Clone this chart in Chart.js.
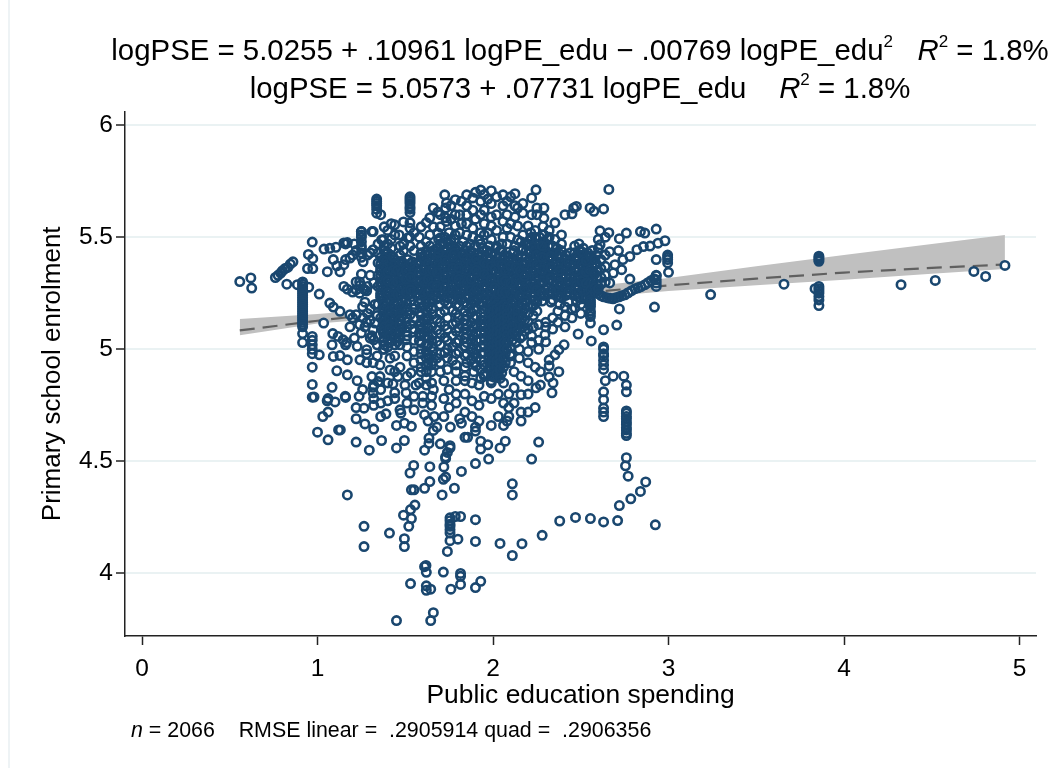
<!DOCTYPE html>
<html><head><meta charset="utf-8">
<script src="https://cdn.jsdelivr.net/npm/chart.js@4/dist/chart.umd.min.js"></script>
<style>
html,body{margin:0;padding:0;background:#fff;width:1050px;height:768px;overflow:hidden;font-family:"Liberation Sans",Arial,sans-serif;color:#000}
#wrap{position:relative;width:1050px;height:768px}
#edge{position:absolute;left:8px;top:0;width:2px;height:768px;background:#eef3f5}
canvas{position:absolute;left:0;top:0}
.t{position:absolute;white-space:nowrap;font-size:29.4px;line-height:34px;transform:translateX(-50%)}
.t sup{font-size:17px;line-height:0;vertical-align:baseline;position:relative;top:-13px}
#note{position:absolute;left:131px;top:718px;font-size:21.4px;line-height:24px;white-space:pre}
</style></head><body>
<div id="wrap">
<div id="edge"></div>
<canvas id="c" width="1050" height="768"></canvas>
<div class="t" style="left:580px;top:33px">logPSE = 5.0255 + .10961 logPE_edu − .00769 logPE_edu<sup>2</sup> &nbsp; <i>R</i><sup>2</sup> = 1.8%</div>
<div class="t" style="left:580px;top:71px">logPSE = 5.0573 + .07731 logPE_edu &nbsp;&nbsp; <i>R</i><sup>2</sup> = 1.8%</div>
<div id="note"><i>n</i> = 2066    RMSE linear =  .2905914 quad =  .2906356</div>
</div>
<script>
// every strand: [spending, enrolment, enrolment, ...]
const leftTail=[[0.557,5.302],[0.62,5.318],[0.625,5.273],[0.76,5.32],[0.775,5.33],[0.79,5.34],[0.80,5.35],[0.815,5.36],[0.83,5.365],[0.845,5.38],[0.86,5.39],[0.825,5.29],[0.885,5.288],
[0.915,5.30,5.29,5.28,5.27,5.26,5.25,5.24,5.23,5.22,5.21,5.20,5.19,5.18,5.17,5.16,5.15,5.14,5.13,5.12,5.11,5.10,5.07,5.03],
[0.95,5.277],[1.01,5.246],[1.035,5.117],[0.97,5.478,5.057,5.04,5.02,5.0,4.98,4.92,4.843,4.786],[0.948,5.423],[0.973,5.404,5.36],[0.943,5.36],[1.037,5.447],[1.07,5.45,5.206],[1.105,5.455],[1.15,5.474,5.377,5.28],[1.17,5.268,5.476],[1.09,5.40,5.188,4.968],[1.056,5.346],[1.11,5.372,4.904],[1.128,5.346,5.169,4.972],[1.185,5.407,5.154,5.10],[1.01,4.975],[1.087,5.07],[1.083,5.02,4.83],[1.17,4.886,4.953],[1.158,4.79],[1.06,4.78]];
const leftCloud=[[1.22,5.154,5.44,5.30,5.265],[1.26,5.14,5.39,5.27],[1.30,5.13,5.43,5.33],[1.327,5.117,5.20],[1.117,5.057],[1.146,5.042],[1.166,5.03],[1.226,5.013,4.86],[1.25,5.073,5.525,5.51,5.50,5.48,5.46,5.45,5.43,5.41,5.335],[1.317,5.087,4.94,5.525,5.444],[1.28,4.998,4.98,4.94,5.26,5.12],[1.32,5.042,5.296],[1.242,4.953,5.285],[1.356,4.93,4.878],[1.413,4.908,4.96],[1.458,4.878],[1.533,4.895],[1.31,4.878,5.06],[1.345,4.856,5.385],[1.43,4.846],[1.498,4.84],[1.56,4.84],[1.257,4.82,5.19],[1.317,4.83,4.806],[1.44,4.806],[1.505,4.806],[1.237,4.79],[1.375,5.488,5.00,5.09],[1.34,5.15,5.02,4.97],[1.20,5.42,5.255,5.14],[1.24,5.30,5.25,5.11],[1.27,5.265,5.21,5.10],[1.285,5.42,5.28,5.16],[1.345,5.47,5.43,5.33,5.28,5.20],[1.30,5.05,5.18],[1.36,5.36,5.30,5.24,5.14],[1.16,5.40,5.47,5.02],[1.21,5.47,5.05]];
const upperCloud=[[1.337,5.67,5.66,5.65,5.64,5.625,5.607],[1.36,5.60],[1.38,5.546,5.46,5.44],[1.42,5.56,5.49,5.45],[1.44,5.555,5.51],[1.49,5.568,5.47,5.44],[1.527,5.68,5.67,5.66,5.65,5.635,5.625,5.61,5.564,5.54,5.50,5.46],[1.59,5.546,5.46,5.43],[1.62,5.48,5.44],[1.64,5.587,5.51,5.46],[1.66,5.546,5.63,5.44],[1.70,5.546,5.497,5.60,5.47],[1.685,5.612,5.52],[1.725,5.689,5.50,5.44],[1.735,5.653,5.57],[1.73,5.587,5.63],[1.785,5.667,5.60,5.55,5.51,5.45],[1.85,5.689,5.64,5.60,5.56,5.51,5.46],[1.885,5.675,5.62,5.54,5.50],[1.93,5.71,5.66,5.60,5.52,5.47],[1.99,5.707,5.65,5.59,5.55,5.49],[2.057,5.689,5.64,5.57,5.50],[1.25,5.525],[1.31,5.525],[1.365,5.488],[1.465,5.51],[1.515,5.497],[1.76,5.64,5.58,5.49],[1.81,5.60,5.52,5.46],[1.82,5.66,5.56],[1.90,5.70,5.58,5.46],[1.95,5.69,5.62,5.56,5.51,5.44],[1.97,5.67,5.52],[2.02,5.68,5.60,5.53,5.46],[2.08,5.66,5.60,5.54,5.47],[2.125,5.694,5.64,5.59,5.46],[2.10,5.68,5.56,5.50],[2.17,5.608,5.51,5.65,5.45],[2.14,5.488,5.55,5.63],[2.245,5.711],[2.22,5.675,5.60,5.50],[2.25,5.63,5.60,5.47],[2.29,5.63,5.585],[2.285,5.548,5.47],[2.353,5.564,5.49],[2.32,5.50,5.53],[2.39,5.47,5.51],[2.41,5.60],[2.45,5.604],[2.46,5.63],[2.475,5.637],[2.553,5.63],[2.575,5.615],[2.63,5.626],[2.66,5.713],[2.20,5.55,5.47],[1.55,5.52,5.44],[1.58,5.50],[1.40,5.53,5.47,5.43],[1.47,5.46,5.42],[1.62,5.565]];
const denseCore=[[1.36,5.41,5.38,5.35,5.33,5.30,5.28,5.25,5.23],[1.39,5.43,5.41,5.39,5.36,5.34,5.31,5.29,5.26,5.24,5.21],[1.415,5.42,5.40,5.37,5.35,5.32,5.30,5.27,5.25,5.22],[1.44,5.40,5.38,5.36,5.33,5.31,5.28,5.26,5.23],[1.465,5.39,5.37,5.34,5.32,5.29,5.27,5.24],[1.49,5.38,5.36,5.33,5.30,5.28,5.26,5.23],[1.515,5.40,5.37,5.35,5.32,5.29,5.27,5.24],[1.54,5.39,5.36,5.34,5.31,5.28,5.25],[1.565,5.38,5.36,5.33,5.30,5.27,5.25],[1.59,5.41,5.39,5.36,5.33,5.31,5.28,5.26],[1.615,5.42,5.39,5.37,5.34,5.32,5.29,5.26,5.24],[1.64,5.43,5.40,5.37,5.35,5.32,5.30,5.27,5.24],[1.665,5.44,5.42,5.39,5.36,5.34,5.31,5.29,5.26,5.24],[1.69,5.45,5.42,5.40,5.37,5.35,5.32,5.30,5.27,5.25],[1.715,5.47,5.44,5.41,5.38,5.36,5.33,5.31,5.28,5.26,5.24],[1.74,5.48,5.45,5.42,5.39,5.37,5.34,5.31,5.29,5.26,5.23],[1.765,5.46,5.43,5.41,5.38,5.35,5.33,5.30,5.28,5.25],[1.79,5.44,5.42,5.39,5.37,5.34,5.32,5.29,5.26,5.24],[1.815,5.43,5.40,5.38,5.35,5.33,5.30,5.27,5.25,5.22],[1.84,5.44,5.41,5.39,5.36,5.34,5.31,5.28,5.26,5.23],[1.865,5.42,5.40,5.37,5.35,5.32,5.29,5.27,5.24],[1.89,5.43,5.41,5.38,5.36,5.33,5.30,5.28,5.25,5.22],[1.915,5.42,5.39,5.37,5.34,5.31,5.29,5.26,5.23],[1.94,5.45,5.42,5.40,5.37,5.35,5.32,5.30,5.27,5.24,5.21],[1.965,5.44,5.41,5.38,5.36,5.33,5.31,5.28,5.25,5.22],[1.99,5.43,5.40,5.38,5.35,5.32,5.30,5.27,5.24,5.21],[2.015,5.45,5.42,5.39,5.37,5.34,5.31,5.29,5.26,5.23],[2.04,5.44,5.41,5.38,5.36,5.33,5.30,5.28,5.25,5.22],[2.065,5.42,5.40,5.37,5.34,5.32,5.29,5.27,5.24],[2.09,5.41,5.39,5.36,5.33,5.31,5.28,5.26,5.23],[2.115,5.43,5.40,5.38,5.35,5.32,5.30,5.27,5.25,5.22],[2.14,5.42,5.39,5.37,5.34,5.32,5.29,5.26,5.24],[2.165,5.41,5.38,5.36,5.33,5.31,5.28,5.25,5.23],[2.19,5.47,5.44,5.41,5.39,5.36,5.34,5.31,5.29,5.26,5.24],[2.215,5.52,5.49,5.46,5.43,5.40,5.38,5.35,5.33,5.30,5.27,5.25],[2.24,5.53,5.50,5.47,5.44,5.41,5.39,5.36,5.34,5.31,5.28,5.25,5.22],[2.265,5.50,5.47,5.44,5.42,5.39,5.37,5.34,5.32,5.29,5.26,5.24],[2.29,5.51,5.48,5.45,5.43,5.40,5.38,5.35,5.33,5.30,5.27,5.24],[2.315,5.49,5.46,5.43,5.41,5.38,5.36,5.33,5.31,5.28,5.25],[2.34,5.46,5.43,5.40,5.38,5.35,5.33,5.30,5.27,5.25,5.22],[2.365,5.45,5.42,5.39,5.37,5.34,5.32,5.29,5.26,5.24],[2.39,5.44,5.41,5.38,5.36,5.33,5.30,5.28,5.25,5.23],[2.415,5.42,5.40,5.37,5.35,5.32,5.29,5.27,5.24],[2.44,5.43,5.40,5.38,5.35,5.33,5.30,5.27,5.25],[2.465,5.46,5.43,5.40,5.38,5.35,5.32,5.30,5.27,5.24],[2.49,5.47,5.44,5.41,5.38,5.36,5.33,5.31,5.28,5.25,5.23],[2.515,5.45,5.42,5.39,5.37,5.34,5.32,5.29,5.26,5.24],[2.54,5.43,5.41,5.38,5.36,5.33,5.30,5.28,5.25],[2.565,5.44,5.40,5.37,5.34,5.31,5.28,5.25],[2.59,5.42,5.38,5.35,5.32,5.29,5.26],[2.615,5.40,5.36,5.32,5.29]];
const coreExtra=[[1.375,5.395,5.365,5.315,5.272,5.235,5.195,5.165,5.135,5.112,5.072,5.035],[1.40,5.345,5.305,5.252,5.205,5.158,5.124,5.082,5.043,5.01],[1.43,5.412,5.352,5.295,5.242,5.182,5.146,5.105,5.062],[1.455,5.352,5.302,5.245,5.206,5.166,5.118,5.07,5.034],[1.48,5.392,5.342,5.272,5.215,5.172,5.144,5.092],[1.505,5.352,5.312,5.255,5.214,5.186,5.122,5.078,5.042],[1.53,5.382,5.322,5.265,5.216,5.156,5.112],[1.58,5.346,5.298,5.242,5.205,5.166,5.104,5.072,5.038],[1.605,5.408,5.352,5.302,5.245,5.192,5.13,5.075],[1.63,5.382,5.312,5.252,5.188,5.142,5.095,5.058,5.02,4.975,4.94],[1.655,5.352,5.282,5.225,5.155,5.062,4.99,4.945],[1.68,5.412,5.342,5.282,5.225,5.135,5.085,5.035,4.96],[1.725,5.397,5.322,5.272,5.215,5.172,5.105,5.052,4.985],[1.77,5.412,5.362,5.315,5.265,5.222,5.175,5.11,5.06,5.012,4.95],[1.805,5.362,5.312,5.235,5.19,5.142,5.095,5.04,4.99],[1.85,5.402,5.352,5.295,5.24,5.195,5.15,5.112,5.07,5.03,4.98,4.94],[1.875,5.382,5.312,5.262,5.2,5.165,5.12,5.08,5.04,5.0,4.955],[1.905,5.402,5.352,5.27,5.215,5.18,5.145,5.11,5.075,5.04,5.0,4.96,4.925],[1.95,5.385,5.335,5.285,5.225,5.18,5.145,5.115,5.08,5.05,5.02,4.985,4.93,4.89],[1.99,5.37,5.31,5.26,5.19,5.15,5.12,5.08,5.05,5.02,4.98,4.95,4.91,4.88,4.86],[2.01,5.355,5.275,5.215,5.185,5.155,5.115,5.09,5.06,5.01,4.985,4.94,4.905,4.875],[2.03,5.39,5.32,5.245,5.21,5.17,5.11,5.06,5.01,4.96,4.93,4.885],[2.05,5.375,5.31,5.255,5.21,5.16,5.11,5.06,5.015,4.975,4.935,4.895],[2.07,5.35,5.305,5.255,5.215,5.17,5.115,5.07,5.02,4.98,4.94],[2.10,5.37,5.295,5.245,5.205,5.165,5.125,5.09,5.055,5.01,4.97],[2.13,5.365,5.31,5.265,5.21,5.16,5.125,5.095,5.06,5.03],[2.155,5.35,5.295,5.24,5.19,5.15,5.12,5.09,5.05],[2.18,5.375,5.325,5.27,5.215,5.18,5.13,5.08],[2.23,5.455,5.395,5.345,5.29,5.235,5.195,5.15,5.1],[2.25,5.49,5.42,5.375,5.325,5.265,5.21,5.17],[2.28,5.46,5.41,5.355,5.305,5.25,5.215],[2.33,5.415,5.365,5.315,5.26,5.21],[2.38,5.425,5.35,5.29,5.235,5.2],[2.43,5.39,5.31,5.255,5.21],[2.475,5.415,5.35,5.285,5.215],[2.505,5.435,5.38,5.305,5.225],[2.53,5.395,5.345,5.295,5.23],[2.555,5.415,5.355,5.295,5.265],[2.58,5.40,5.335,5.275],[1.69,5.49,5.43],[1.75,5.52,5.47],[1.78,5.49,5.43],[1.83,5.48,5.42],[1.87,5.47,5.44],[1.92,5.49],[1.98,5.46],[2.05,5.47,5.44],[2.12,5.44],[2.16,5.48,5.44]];
const spine=[[1.98,5.20,5.18,5.16,5.13,5.11,5.09,5.06,5.04,5.01,4.99,4.96,4.94,4.92],[2.0,5.19,5.17,5.14,5.12,5.10,5.07,5.05,5.02,5.00,4.97,4.95,4.93,4.90,4.88],[2.02,5.20,5.18,5.15,5.13,5.10,5.08,5.05,5.03,5.00,4.98,4.95,4.92,4.89],[2.04,5.19,5.17,5.14,5.12,5.09,5.07,5.04,5.02,4.99,4.97,4.94,4.91,4.87],[2.06,5.20,5.18,5.15,5.13,5.10,5.08,5.05,5.03,5.00,4.96,4.92],[2.08,5.19,5.16,5.14,5.11,5.09,5.06,5.03,5.00],[2.11,5.20,5.18,5.15,5.12,5.10,5.07,5.04],[2.14,5.19,5.17,5.14,5.11,5.08],[2.17,5.20,5.17,5.14,5.10,5.06],[2.20,5.19,5.16,5.12,5.09,4.99,4.94],[1.38,5.20,5.18,5.15,5.12,5.10,5.08,5.05,5.02,5.00],[1.41,5.19,5.17,5.14,5.11,5.09,5.06,5.03],[1.44,5.20,5.18,5.16,5.13,5.10,5.08,5.05,5.02,4.97],[1.47,5.19,5.16,5.13,5.11,5.08,5.05,5.02],[1.51,5.20,5.17,5.14,5.10,5.06,5.01,4.97],[1.55,5.20,5.18,5.14,5.09,5.04,4.99,4.94],[1.59,5.22,5.19,5.15,5.12,5.09,5.06,5.03,5.00,4.98,4.95,4.92,4.90],[1.62,5.21,5.17,5.14,5.11,5.08,5.05,5.02,4.99,4.96,4.93,4.90,4.87,4.84],[1.65,5.21,5.18,5.10,5.04,5.01,4.97,4.93,4.90],[1.70,5.20,5.16,5.12,5.07,5.02,4.98,4.94,4.90],[1.74,5.20,5.14,5.09,5.04,5.00,4.96,4.91],[1.79,5.20,5.16,5.12,5.08,5.03,4.98,4.93,4.90],[1.84,5.21,5.17,5.13,5.09,5.05,5.01,4.97,4.92,4.88],[1.89,5.21,5.18,5.14,5.10,5.06,5.02,4.98,4.94,4.90],[1.93,5.20,5.16,5.13,5.10,5.07,5.04,5.01,4.98,4.95,4.91,4.87]];
const lowerCloud=[[1.0,4.63],[0.98,4.787],[1.03,4.70],[1.055,4.77],[1.06,4.596],[1.10,4.765],[1.12,4.64],[1.13,4.64],[1.16,4.785],[1.17,4.35],[1.22,4.74,4.69,4.586],[1.265,4.737,4.21,4.12],[1.27,4.667],[1.295,4.55],[1.32,4.75,4.644],[1.365,4.593],[1.39,4.712],[1.41,4.18],[1.45,4.66,4.56,3.79],[1.475,4.715],[1.49,4.26],[1.495,4.67,4.593,4.155,4.12],[1.52,4.21],[1.53,4.285,3.955],[1.527,4.448],[1.535,4.656,4.373,4.245],[1.548,4.482],[1.55,4.373],[1.555,4.305],[1.61,4.708,4.55,4.38,4.03],[1.618,4.036],[1.62,4.005,3.945,3.925],[1.63,4.68],[1.635,4.604,4.58],[1.64,4.476,4.41],[1.645,3.93,3.79],[1.66,4.638,3.825],[1.665,4.70],[1.68,4.653],[1.70,4.578],[1.71,4.35],[1.717,4.42,4.006],[1.72,4.475],[1.73,4.43,4.513,4.52],[1.74,4.098,4.54],[1.755,4.56,4.57,4.248,4.235,4.22,4.21,4.195,4.18,4.146],[1.757,4.653],[1.76,3.93],[1.78,4.38],[1.785,4.254],[1.80,4.153],[1.81,4.69],[1.815,4.254,4.0,3.987,3.951],[1.82,4.67,4.455],[1.84,4.607],[1.855,4.607],[1.90,4.653,4.635,4.49,4.24,4.143,3.937],[1.93,4.59,4.555,3.965],[1.97,4.574],[1.975,4.51],[2.04,4.56,4.134],[2.07,4.59],[2.08,4.68],[2.11,4.40,4.35,4.08],[2.165,4.133],[2.22,4.51],[2.26,4.586],[2.28,4.17],[2.38,4.234],[2.47,4.25],[2.555,4.245],[2.63,4.23],[2.71,4.236],[2.925,4.217],[2.72,4.303],[2.785,4.333],[2.84,4.366],[2.87,4.408],[2.77,4.434],[2.755,4.48],[2.76,4.516,4.84,4.81,4.725,4.715,4.70,4.69,4.675,4.665,4.65,4.64,4.625,4.615],[2.63,5.01,5.0,4.98,4.97,4.95,4.93,4.91,4.81,4.775,4.737,4.72,4.70],[2.64,4.86],[2.685,4.88],[2.745,4.88],
[2.405,5.02],[2.375,4.998,4.90],[2.353,4.975],[2.32,4.953,4.926,4.877],[2.342,4.85],[2.336,4.806],[2.245,4.828],[2.16,4.797],[2.12,4.828],[2.296,5.065],[2.30,5.033],
[1.06,4.72],[1.32,4.84,4.78],[1.36,4.76,4.82,4.70],[1.40,4.85,4.77],[1.44,4.78,4.90],[1.47,4.73,4.92],[1.51,4.76,4.88],[1.55,4.79,4.73],[1.58,4.85],[1.60,4.79,4.76],[1.65,4.85,4.79,4.75],[1.66,4.82],[1.72,4.86,4.78,4.70],[1.75,4.82,4.74],[1.79,4.86,4.80,4.76],[1.84,4.86,4.80,4.72],[1.88,4.85,4.77,4.70],[1.92,4.84,4.75,4.68],[1.95,4.88,4.79],[1.99,4.85,4.78,4.66],[2.03,4.80,4.70],[2.06,4.85,4.76,4.66],[2.09,4.80,4.74,4.70],[2.12,4.90,4.76],[2.16,4.88,4.72,4.68],[2.20,4.86,4.80,4.72],[2.24,4.92,4.74],[2.27,4.90,4.84],[2.10,4.94,4.98],[2.15,4.96,5.00],[2.22,5.03,5.06],[2.26,5.11,5.04,5.00],[2.30,5.10,5.12],[2.34,5.14,5.09],[2.37,5.12,5.17],[2.41,5.10,5.15,5.19],[2.45,5.14,5.18],[2.467,5.184],[2.485,5.068],[2.50,5.20,5.16],[2.555,5.235,5.22,5.21,5.20,5.19,5.17,5.16,5.146,5.117],[2.56,5.037],[2.63,5.087],[2.705,5.108],[2.72,5.18],[2.92,5.188]];
const rightCurve=[[2.58,5.256],[2.60,5.248],[2.615,5.239],[2.63,5.234],[2.65,5.23],[2.667,5.227],[2.684,5.225],[2.70,5.23],[2.718,5.234],[2.735,5.239],[2.752,5.243],[2.77,5.252],[2.79,5.261],[2.81,5.27],[2.826,5.274],[2.843,5.279],[2.866,5.288],[2.883,5.297],[2.90,5.306],[2.917,5.314],[2.93,5.328,5.33,5.31,5.295,5.28,5.40,5.536],[2.84,5.525],[2.865,5.518],[2.76,5.518],[2.72,5.493],[2.61,5.528,5.466],[2.66,5.52],[2.98,5.484],[2.94,5.473],[2.895,5.46],[2.857,5.458],[2.82,5.444],[2.78,5.414,5.313],[2.74,5.40],[2.715,5.44],[2.995,5.42,5.41,5.40,5.385],[3.0,5.343],[2.665,5.435,5.296],[2.695,5.377],[2.733,5.355],[2.685,5.34],[2.64,5.50,5.42,5.37,5.33,5.30],[2.60,5.49,5.45,5.27]];
const rightTail=[[3.24,5.244],[3.658,5.29],[3.835,5.27],[3.857,5.415,5.407,5.40,5.392,5.28,5.27,5.26,5.25,5.235,5.22,5.195],[4.325,5.288],[4.52,5.307],[4.74,5.347],[4.807,5.325],[4.917,5.374]];
// fitted line and confidence band
const fitX=[0.557,1.0,1.5,2.0,2.5,3.0,3.5,4.0,4.5,4.917];
const fitY=[5.084,5.127,5.172,5.213,5.251,5.285,5.315,5.342,5.363,5.378];
const bandUpper=[5.135,5.157,5.19,5.23,5.275,5.318,5.37,5.42,5.47,5.51];
const bandLower=[5.062,5.115,5.145,5.195,5.225,5.26,5.285,5.31,5.337,5.358];
const xTicks=[0,1,2,3,4,5];
const yTicks=[4,4.5,5,5.5,6];

const strands=[...leftTail,...leftCloud,...upperCloud,...denseCore,...coreExtra,...spine,...lowerCloud,...rightCurve,...rightTail];
const points=[];
strands.forEach(s=>s.slice(1).forEach(y=>points.push({x:s[0],y})));
const pair=ys=>fitX.map((x,i)=>({x,y:ys[i]}));
const navy='#1a476f';
new Chart(document.getElementById('c'),{
 type:'scatter',
 data:{datasets:[
  {label:'Primary school enrolment',data:points,order:0,pointStyle:'circle',pointRadius:4.2,pointBorderWidth:2.6,pointBorderColor:navy,pointBackgroundColor:'rgba(0,0,0,0)'},
  {label:'marker interior',data:points,order:1,pointRadius:3.5,pointBorderWidth:0,pointBackgroundColor:'#fff'},
  {label:'Fit',data:pair(fitY),order:2,showLine:true,pointRadius:0,borderColor:'#606060',borderWidth:2.2,borderDash:[15,8]},
  {label:'CI upper',data:pair(bandUpper),order:3,showLine:true,pointRadius:0,borderWidth:0,borderColor:'#c0c0c0',backgroundColor:'#c0c0c0',fill:'+1'},
  {label:'CI lower',data:pair(bandLower),order:4,showLine:true,pointRadius:0,borderWidth:0,borderColor:'#c0c0c0'}
 ]},
 options:{
  responsive:false,animation:false,events:[],
  layout:{padding:{left:37,right:14,top:111.6,bottom:56}},
  plugins:{legend:{display:false},tooltip:{enabled:false},title:{display:false}},
  scales:{
   x:{type:'linear',min:-0.097,max:5.094,
    afterFit:s=>{s.height=76},
    afterBuildTicks:s=>{s.ticks=xTicks.map(value=>({value}))},
    border:{color:'#222',width:1.5},
    grid:{drawOnChartArea:false,tickColor:'#222',tickWidth:1.5,tickLength:9},
    ticks:{color:'#000',font:{family:'"Liberation Sans"',size:24.5},padding:10,maxRotation:0,autoSkip:false,callback:v=>String(v)},
    title:{display:true,text:'Public education spending',color:'#000',font:{family:'"Liberation Sans"',size:26.4},padding:{top:0,bottom:0}}},
   y:{type:'linear',min:3.721,max:6.06,
    afterFit:s=>{s.width=88},
    afterBuildTicks:s=>{s.ticks=yTicks.map(value=>({value}))},
    border:{color:'#222',width:1.5},
    grid:{color:'#eaf2f3',lineWidth:2,tickColor:'#222',tickWidth:1.5,tickLength:9},
    ticks:{color:'#000',font:{family:'"Liberation Sans"',size:24.5},padding:3,callback:v=>String(v)},
    title:{display:true,text:'Primary school enrolment',color:'#000',font:{family:'"Liberation Sans"',size:26},padding:{top:0,bottom:0}}}
  }
 }
});
</script>
</body></html>
